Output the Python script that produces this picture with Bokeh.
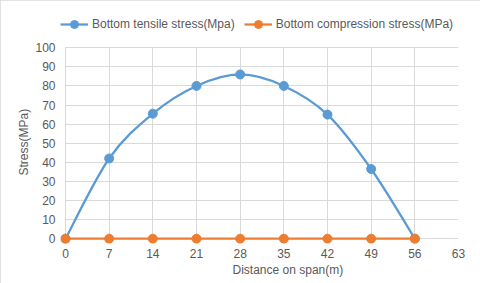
import numpy as np
from bokeh.plotting import figure
from bokeh.models import Range1d, FixedTicker, Legend, LegendItem, Title
from bokeh.embed import file_html
from bokeh.resources import INLINE

# data
distance = [0, 7, 14, 21, 28, 35, 42, 49, 56]
tensile = [0, 42, 65.5, 80, 86, 80, 65, 36.5, 0]
compression = [0, 0, 0, 0, 0, 0, 0, 0, 0]
x_ticks = [0, 7, 14, 21, 28, 35, 42, 49, 56, 63]
y_ticks = [0, 10, 20, 30, 40, 50, 60, 70, 80, 90, 100]

BLUE = "#5B9BD5"
ORANGE = "#ED7D31"
GRAY_TXT = "#595959"
GRID = "#D9D9D9"
FONT = "Liberation Sans"

p = figure(width=480, height=283, output_backend="svg", toolbar_location=None,
           x_range=Range1d(-0.8, 63), y_range=Range1d(-2.5, 119.5),
           min_border_left=60, min_border_right=22, min_border_top=10, min_border_bottom=40)
p.outline_line_color = None
p.background_fill_color = "white"
p.border_fill_color = "white"
p.styles = {"outline": "1px solid #D9D9D9", "outline-offset": "-1px"}

for ax in (p.xaxis, p.yaxis):
    ax.axis_line_color = None
    ax.major_tick_line_color = None
    ax.minor_tick_line_color = None
    ax.major_tick_out = 0
    ax.major_tick_in = 0
    ax.minor_tick_out = 0
    ax.minor_tick_in = 0
    ax.major_label_text_font = FONT
    ax.major_label_text_font_size = "12px"
    ax.major_label_text_color = GRAY_TXT

p.xaxis.ticker = FixedTicker(ticks=x_ticks)
p.yaxis.ticker = FixedTicker(ticks=y_ticks)
p.xaxis.major_label_standoff = 5
p.yaxis.major_label_standoff = 5

xtitle = Title(text="Distance on span(m)", align="left", offset=172, standoff=0,
               text_font=FONT, text_font_size="12px", text_color=GRAY_TXT,
               text_font_style="normal")
p.add_layout(xtitle, "below")
ytitle = Title(text="Stress(MPa)", align="left", offset=68, standoff=4,
               text_font=FONT, text_font_size="12px", text_color=GRAY_TXT,
               text_font_style="normal")
p.add_layout(ytitle, "left")

p.xgrid.grid_line_color = GRID
p.ygrid.grid_line_color = GRID
p.xgrid.cross_bounds = (0, 100)
p.ygrid.cross_bounds = (0, 63)

# smoothed tensile curve (cubic Bezier through the data points)
xs = np.array(distance, dtype=float)
ys = np.array(tensile, dtype=float)
xp = np.concatenate([[xs[0]], xs, [xs[-1]]])
yp = np.concatenate([[ys[0]], ys, [ys[-1]]])
n = len(xs)
x0 = xs[:-1]; y0 = ys[:-1]; x1 = xs[1:]; y1 = ys[1:]
cx0 = x0 + (xp[2:n + 1] - xp[0:n - 1]) / 6.0
cy0 = y0 + (yp[2:n + 1] - yp[0:n - 1]) / 6.0
cx1 = x1 - (xp[3:n + 2] - xp[1:n]) / 6.0
cy1 = y1 - (yp[3:n + 2] - yp[1:n]) / 6.0
p.bezier(x0=x0, y0=y0, x1=x1, y1=y1, cx0=cx0, cy0=cy0, cx1=cx1, cy1=cy1,
         line_color=BLUE, line_width=2.25)
r1m = p.scatter(distance, tensile, size=9, color=BLUE, line_color=BLUE)

r2l = p.line(distance, compression, line_color=ORANGE, line_width=2.25)
r2m = p.scatter(distance, compression, size=9, color=ORANGE, line_color=ORANGE)

# legend proxies
l1 = p.line([0, 1], [0, 0], line_color=BLUE, line_width=2.25, visible=False)
l2 = p.line([0, 1], [0, 0], line_color=ORANGE, line_width=2.25, visible=False)
legend = Legend(items=[
    LegendItem(label="Bottom tensile stress(Mpa)", renderers=[l1, r1m]),
    LegendItem(label="Bottom compression stress(MPa)", renderers=[l2, r2m]),
], orientation="horizontal", location=(0, 209))
legend.border_line_color = None
legend.background_fill_alpha = 0
legend.label_text_font = FONT
legend.label_text_font_size = "12px"
legend.label_text_color = GRAY_TXT
legend.glyph_width = 28
legend.glyph_height = 20
legend.label_standoff = 4
legend.spacing = 9
legend.padding = 0
legend.margin = 0
p.add_layout(legend, "center")

open("out.html", "w").write(file_html(p, INLINE))
